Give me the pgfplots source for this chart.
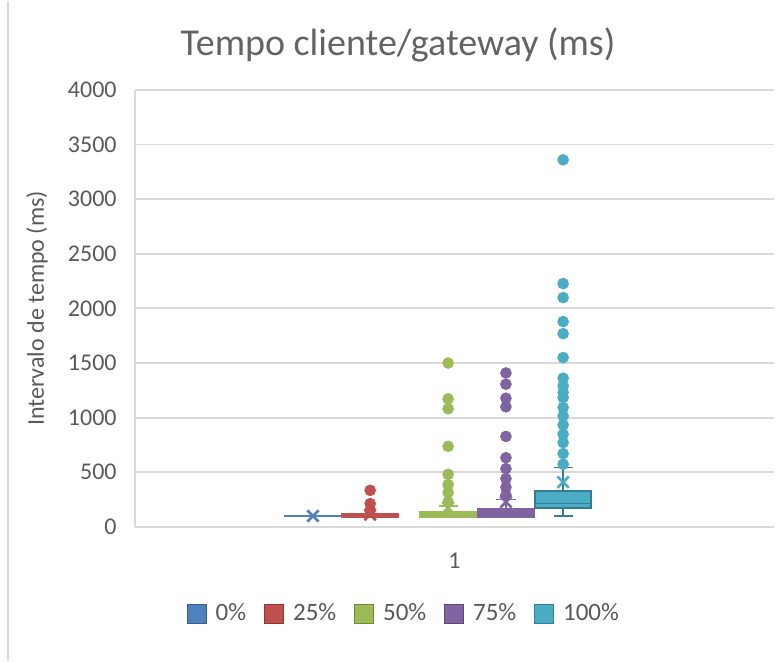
\documentclass[border=0pt]{standalone}
\usepackage{fontspec}
\setmainfont{Carlito}
\usepackage{pgfplots}
\pgfplotsset{compat=1.18}
\definecolor{cblue}{HTML}{4F81BD}\definecolor{cblueD}{HTML}{385D8A}
\definecolor{cred}{HTML}{C0504D}\definecolor{credD}{HTML}{8C3836}
\definecolor{cgreen}{HTML}{9BBB59}\definecolor{cgreenD}{HTML}{71893F}
\definecolor{cpurp}{HTML}{8064A2}\definecolor{cpurpD}{HTML}{5C4776}
\definecolor{caqua}{HTML}{4BACC6}\definecolor{caquaD}{HTML}{357D91}
\definecolor{txt}{HTML}{595959}
\definecolor{ttl}{HTML}{636363}
\definecolor{gridc}{HTML}{D9D9D9}
\begin{document}
\begin{tikzpicture}
\begin{axis}[
  at={(0,0)}, anchor=south west,
  scale only axis, width=319.5pt, height=218.5pt,
  xmin=0, xmax=2, ymin=0, ymax=4000,
  ytick={0,500,...,4000},
  xtick={1}, xticklabels={1},
  major tick length=0pt,
  axis lines=left,
  axis line style={-, draw=gridc, line width=0.9pt},
  ymajorgrids, grid style={draw=gridc, line width=0.9pt},
  tick label style={font=\fontsize{12}{14}\selectfont, text=txt},
  yticklabel style={anchor=east, inner sep=0pt, xshift=-9pt},
  xticklabel style={anchor=north, inner sep=0pt, yshift=-13pt},
  /pgf/number format/assume math mode=true,
  /pgf/number format/set thousands separator={},
  every axis title shift=0pt,
  title={Tempo cliente/gateway (ms)},
  title style={font=\fontsize{19}{23}\selectfont, text=ttl, at={(axis description cs:0.4116,1.0778)}, anchor=base, inner sep=0pt, yshift=0pt},
  ylabel={Intervalo de tempo (ms)},
  ylabel style={font=\fontsize{12}{14}\selectfont, text=txt, at={(axis description cs:-0.1534,0.5)}, anchor=center, inner sep=0pt},
  legend image code/.code={\draw[#1] (0pt,-4.75pt) rectangle (9.5pt,4.75pt);},
  legend columns=5,
  legend style={draw=none, fill=none, at={(axis description cs:0.4225,-0.199)}, anchor=center,
    font=\fontsize{12.5}{15}\selectfont, text=txt,
    /tikz/every odd column/.append style={column sep=2.5pt},
    /tikz/every even column/.append style={column sep=7pt}},
  clip=false,
]
% legend
\addlegendimage{fill=cblue, draw=cblueD}\addlegendentry{0\%}
\addlegendimage{fill=cred, draw=credD}\addlegendentry{25\%}
\addlegendimage{fill=cgreen, draw=cgreenD}\addlegendentry{50\%}
\addlegendimage{fill=cpurp, draw=cpurpD}\addlegendentry{75\%}
\addlegendimage{fill=caqua, draw=caquaD}\addlegendentry{100\%}

% ---- 0% (position 0.557)
\addplot[forget plot, fill=cblue, draw=cblue, line width=0.8pt] coordinates {(0.4695,98) (0.6445,98) (0.6445,102) (0.4695,102)} -- cycle;

% ---- 25% (position 0.736)
\addplot[forget plot, fill=cred, draw=cred, line width=0.8pt] coordinates {(0.6485,93) (0.8235,93) (0.8235,117) (0.6485,117)} -- cycle;
\addplot[forget plot, only marks, mark=*, mark size=2.7pt, fill=cred, draw=cred] coordinates {(0.736,335) (0.736,213) (0.736,150)};

% ---- 50% (position 0.980)
\addplot[forget plot, draw=cgreen, line width=0.8pt] coordinates {(0.980,135) (0.980,190)};
\addplot[forget plot, draw=cgreen, line width=0.8pt] coordinates {(0.950,190) (1.010,190)};
\addplot[forget plot, fill=cgreen, draw=cgreen, line width=0.8pt] coordinates {(0.8925,92) (1.0675,92) (1.0675,135) (0.8925,135)} -- cycle;
\addplot[forget plot, only marks, mark=*, mark size=2.7pt, fill=cgreen, draw=cgreen] coordinates {(0.980,1500) (0.980,1172) (0.980,1081) (0.980,737) (0.980,481) (0.980,387) (0.980,314) (0.980,228)};

% ---- 75% (position 1.161)
\addplot[forget plot, draw=cpurp, line width=0.8pt] coordinates {(1.161,165) (1.161,250)};
\addplot[forget plot, draw=cpurp, line width=0.8pt] coordinates {(1.131,250) (1.191,250)};
\addplot[forget plot, fill=cpurp, draw=cpurp, line width=0.8pt] coordinates {(1.0735,92) (1.2485,92) (1.2485,165) (1.0735,165)} -- cycle;
\addplot[forget plot, only marks, mark=*, mark size=2.7pt, fill=cpurp, draw=cpurp] coordinates {(1.161,1409) (1.161,1306) (1.161,1178) (1.161,1099) (1.161,828) (1.161,633) (1.161,533) (1.161,441) (1.161,362) (1.161,289)};

% ---- 100% (position 1.340)
\addplot[forget plot, draw=caquaD, line width=0.8pt] coordinates {(1.340,101) (1.340,171)};
\addplot[forget plot, draw=caquaD, line width=0.8pt] coordinates {(1.310,101) (1.370,101)};
\addplot[forget plot, draw=caquaD, line width=0.8pt] coordinates {(1.340,330) (1.340,543)};
\addplot[forget plot, draw=caquaD, line width=0.8pt] coordinates {(1.310,543) (1.370,543)};
\addplot[forget plot, fill=caqua, draw=caquaD, line width=0.8pt] coordinates {(1.2525,171) (1.4275,171) (1.4275,330) (1.2525,330)} -- cycle;
\addplot[forget plot, draw=caquaD, line width=0.8pt] coordinates {(1.2525,215) (1.4275,215)};
\addplot[forget plot, only marks, mark=*, mark size=2.7pt, fill=caqua, draw=caqua] coordinates {(1.340,3360) (1.340,2227) (1.340,2099) (1.340,1879) (1.340,1769) (1.340,1550) (1.340,1361) (1.340,1291) (1.340,1230) (1.340,1184) (1.340,1093) (1.340,1016) (1.340,934) (1.340,848) (1.340,772) (1.340,671) (1.340,574)};

% ---- means
\addplot[forget plot, only marks, mark=x, mark size=4pt, line width=1.3pt, draw=cblue] coordinates {(0.557,100)};
\addplot[forget plot, only marks, mark=x, mark size=4pt, line width=1.3pt, draw=cred] coordinates {(0.736,112)};
\addplot[forget plot, only marks, mark=x, mark size=4pt, line width=1.3pt, draw=cgreen] coordinates {(0.980,175)};
\addplot[forget plot, only marks, mark=x, mark size=4pt, line width=1.3pt, draw=cpurp] coordinates {(1.161,228)};
\addplot[forget plot, only marks, mark=x, mark size=4pt, line width=1.3pt, draw=caqua] coordinates {(1.340,410)};
\end{axis}
\draw[gridc, line width=0.9pt] (-63.5pt,-67pt) -- (-63.5pt,263pt);
\path[use as bounding box] (-67.5pt,-67pt) rectangle (323.5pt,263pt);
\end{tikzpicture}
\end{document}
